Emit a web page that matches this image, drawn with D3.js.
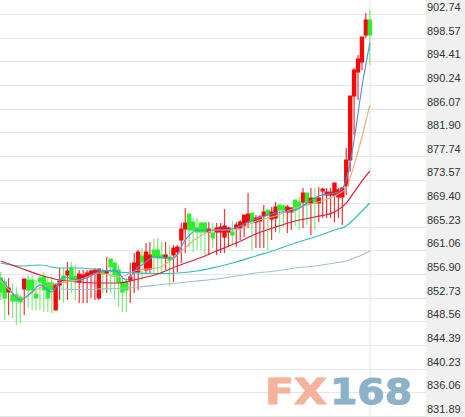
<!DOCTYPE html>
<html><head><meta charset="utf-8">
<script src="https://cdn.jsdelivr.net/npm/d3@7/dist/d3.min.js"></script>
<style>html,body{margin:0;padding:0;background:#fff;overflow:hidden}svg{display:block}</style>
</head><body><svg id="c" width="465" height="417"></svg>
<script>
const tickLabels = ["902.74","898.57","894.41","890.24","886.07","881.90","877.74","873.57","869.40","865.23","861.06","856.90","852.73","848.56","844.39","840.23","836.06","831.89"];
const opens = [854.98,854.27,852.51,851.98,851.98,851.63,853.04,854.62,854.62,852.16,854.98,855.15,854.10,854.10,849.34,853.74,855.33,855.51,856.74,855.33,854.27,854.98,855.15,855.51,855.86,851.45,856.21,855.86,858.32,857.62,856.39,854.27,854.27,854.62,856.03,856.03,858.85,856.39,856.56,859.91,859.91,859.03,858.50,858.68,859.03,859.56,861.67,863.61,866.25,864.84,863.79,864.67,864.67,863.08,862.91,863.08,863.08,862.20,863.08,863.08,863.79,863.79,864.32,864.84,866.43,864.84,865.02,865.90,866.96,865.37,865.55,867.84,867.66,866.61,866.61,868.72,868.37,868.37,869.95,868.19,869.07,868.19,870.31,869.60,869.60,869.60,869.25,869.25,871.19,875.77,887.05,891.28,893.04,897.80,900.45];
const closes = [852.51,851.45,853.21,850.92,850.92,850.75,854.80,852.86,852.86,851.45,854.27,852.86,851.45,852.86,853.74,854.45,854.62,856.21,854.62,854.62,855.68,855.51,855.86,856.21,856.39,856.56,855.68,856.21,856.92,855.51,854.27,852.51,852.86,855.15,857.62,859.56,857.80,859.56,859.03,858.68,858.50,858.50,859.03,858.15,860.26,860.44,863.61,864.67,863.43,863.43,863.08,863.08,863.08,863.61,862.02,863.79,863.96,864.14,863.79,862.55,864.32,864.84,866.08,866.25,864.84,865.55,865.73,866.61,866.08,866.61,867.49,866.96,866.96,867.49,867.31,866.96,867.49,869.95,868.19,869.07,868.19,869.07,870.66,870.13,870.13,871.72,870.48,870.84,875.77,887.05,891.63,893.57,897.45,900.45,897.80];
const highs = [856.03,854.98,854.98,854.10,853.39,851.98,854.80,855.51,855.51,854.62,855.51,856.03,855.15,855.15,854.10,856.74,856.74,857.80,857.80,857.27,856.39,856.39,856.39,856.39,856.74,856.56,856.74,858.68,858.32,857.80,857.27,854.98,854.98,857.62,859.38,859.91,860.26,861.14,861.32,861.85,862.02,861.32,861.32,860.79,860.79,860.79,864.67,867.31,866.25,865.55,865.55,864.84,864.84,864.84,864.67,864.67,864.67,867.13,863.96,865.02,864.84,865.20,866.08,869.95,866.43,866.08,866.08,867.84,866.96,867.49,868.37,867.84,867.84,867.84,867.49,868.72,869.25,870.84,869.95,870.84,870.84,871.01,870.84,870.84,870.84,871.72,870.84,871.01,877.89,887.05,891.99,894.28,897.45,901.68,902.21];
const lows = [851.10,847.58,848.46,847.93,846.70,847.05,848.46,849.69,849.34,849.34,849.34,848.99,848.99,848.81,849.34,851.10,850.57,851.10,852.33,851.10,850.57,850.57,850.57,851.45,851.10,851.10,852.33,852.33,852.33,851.10,849.87,848.99,848.99,850.57,852.33,852.86,854.62,855.86,855.86,855.86,855.86,855.86,856.39,853.57,854.27,856.03,857.62,859.38,860.44,859.56,859.91,859.91,859.03,859.03,860.26,859.03,859.38,859.38,860.44,860.79,860.44,861.67,862.20,863.79,859.91,860.26,860.26,860.26,859.91,861.67,863.08,862.91,863.96,862.91,863.43,864.14,863.43,863.79,864.32,862.55,863.43,864.84,865.55,865.55,865.55,864.84,865.55,864.32,869.60,873.66,880.18,886.35,891.63,897.27,892.51];

const redIdx = [0,5,10,15,20,25,30,35,40,45,50,55,60,65,70,75,80,85,88,90,92,94];
const redVals = [857.97,856.74,855.51,854.62,854.27,854.10,854.10,854.80,855.68,857.09,858.32,859.73,861.14,862.73,863.96,865.02,865.73,866.61,868.19,870.13,872.07,873.83];
const tealIdx = redIdx;
const tealVals = [857.62,857.09,857.27,856.74,856.74,856.39,856.03,855.86,855.77,855.86,856.21,856.92,857.80,858.85,859.91,861.14,862.20,863.43,864.14,865.37,866.78,868.19];
const slateIdx = [15,20,25,30,35,40,45,50,55,60,65,70,75,80,85,88,90,92,94];
const slateVals = [853.04,852.95,853.04,853.13,853.39,853.74,854.10,854.45,854.80,855.33,855.86,856.21,856.74,857.09,857.62,857.97,858.50,859.03,859.73];
const orangeIdx = [0,3,5,10,15,20,25,30,35,40,45,50,55,60,65,70,75,80,85,88,90,92,94];
const orangeVals = [854.62,852.33,851.45,853.21,854.10,854.62,855.86,855.15,856.39,856.74,859.03,862.02,863.43,863.43,865.02,865.90,867.31,868.19,869.43,870.84,874.89,879.83,885.46];
const blueIdx = [0,3,5,8,10,13,16,20,25,29,32,35,36,39,44,47,50,54,59,63,70,75,81,86,88,90,92,94];
const blueVals = [854.98,852.33,851.10,852.51,853.74,852.51,855.15,854.62,856.03,856.39,854.62,856.92,857.27,858.68,858.50,861.67,863.43,863.43,863.61,864.84,866.43,866.96,869.43,870.13,872.25,879.30,888.64,896.39];

const W = 465, H = 417, panelX = 426;
const svg = d3.select("#c");
const x = d3.scaleLinear().domain([0, opens.length - 1]).range([0.7, 369.8]);
const y = d3.scaleLinear().domain([+tickLabels[17], +tickLabels[0]]).range([409, 7]);

svg.append("rect").attr("x", panelX).attr("y", 0).attr("width", W - panelX).attr("height", H).attr("fill", "#f0f0f0");

const grid = svg.append("g").attr("transform", "translate(0,7)");
grid.selectAll("line").data(tickLabels).join("line")
  .attr("x1", 0).attr("x2", panelX)
  .attr("y1", d => Math.round(y(+d)) + .5).attr("y2", d => Math.round(y(+d)) + .5)
  .attr("stroke", "#e6e6e6");

svg.append("line").attr("x1", x(94) + .3).attr("x2", x(94) + .3).attr("y1", 0).attr("y2", H)
  .attr("stroke", "#dce6ea");

const logo = svg.append("g").attr("font-family", "'DejaVu Sans'").attr("font-weight", "bold").attr("font-size", 36).attr("stroke-width", 1);
logo.append("text").attr("x", 265).attr("y", 403.5).attr("textLength", 62).attr("lengthAdjust", "spacingAndGlyphs").attr("fill", "#f5b39c").attr("stroke", "#f5b39c").text("FX");
logo.append("text").attr("x", 330).attr("y", 403.5).attr("textLength", 82).attr("lengthAdjust", "spacingAndGlyphs").attr("fill", "#8cb1c9").attr("stroke", "#8cb1c9").text("168");

const idx = d3.range(opens.length);
const up = i => closes[i] >= opens[i];
svg.append("g").selectAll("line").data(idx).join("line")
  .attr("x1", i => x(i)).attr("x2", i => x(i))
  .attr("y1", i => y(highs[i])).attr("y2", i => y(lows[i]))
  .attr("stroke", i => up(i) ? "#e8383c" : "#7fe87f").attr("stroke-width", 1.2);
svg.append("g").selectAll("rect").data(idx).join("rect")
  .attr("x", i => x(i) - 2.2).attr("width", 4.4)
  .attr("y", i => y(Math.max(opens[i], closes[i])) - .5)
  .attr("height", i => Math.max(3, Math.abs(y(opens[i]) - y(closes[i])) + 1))
  .attr("fill", i => up(i) ? "#f40a0a" : "#2cf02c");

const lineFor = (ids, vals, color, w) => {
  const gen = d3.line().x((d, k) => x(ids[k])).y(d => y(d)).curve(d3.curveMonotoneX);
  svg.append("path").attr("d", gen(vals)).attr("fill", "none").attr("stroke", color).attr("stroke-width", w);
};
lineFor(slateIdx, slateVals, "#a3bdd6", 1.1);
lineFor(tealIdx, tealVals, "#35bcc0", 1.2);
lineFor(redIdx, redVals, "#d4203a", 1.2);
lineFor(orangeIdx, orangeVals, "#eba97e", 1.1);
lineFor(blueIdx, blueVals, "#4a8fdc", 1.1);

svg.append("g").selectAll("text").data(tickLabels).join("text")
  .attr("x", 427).attr("y", d => y(+d)).attr("dy", "0.36em")
  .attr("font-family", "'Liberation Sans'").attr("font-size", 11).attr("fill", "#333").text(d => d);
</script></body></html>
